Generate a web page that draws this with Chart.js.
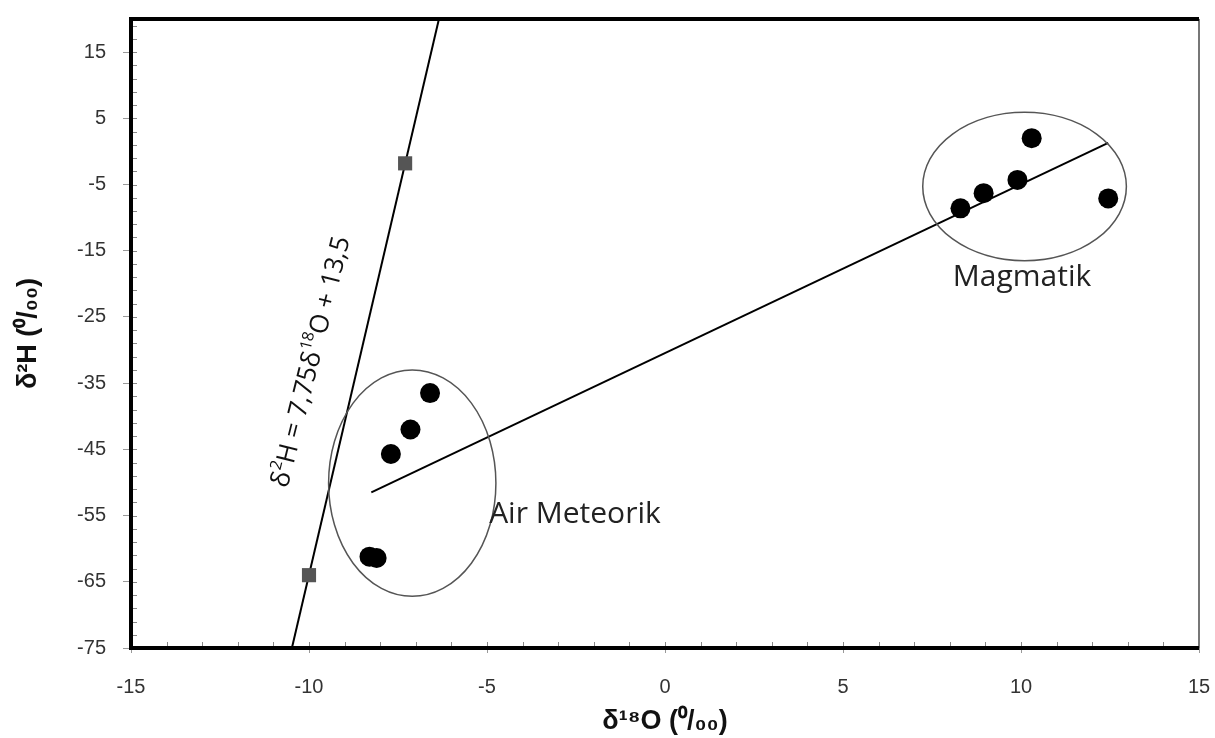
<!DOCTYPE html>
<html>
<head>
<meta charset="utf-8">
<script src="https://cdn.jsdelivr.net/npm/chart.js@4.4.1/dist/chart.umd.min.js"></script>
<style>
  html, body { margin: 0; padding: 0; background: #fff; }
  #wrap { width: 1215px; height: 738px; }
</style>
</head>
<body>
<div id="wrap"><canvas id="chart"></canvas></div>
<script>
// axis ticks
const xTicks = [-15, -10, -5, 0, 5, 10, 15];
const yTicks = [-75, -65, -55, -45, -35, -25, -15, -5, 5, 15];

// samples (d18O, d2H)
const sampleO = [-6.6, -7.15, -7.7, -8.3, -8.1, 8.3, 8.95, 9.9, 10.3, 12.45];
const sampleH = [-36.5, -42.0, -45.7, -61.2, -61.4, -8.6, -6.3, -4.3, 2.0, -7.1];

// meteoric water line reference points (grey squares) and its drawn extent
const mwlO = [-7.3, -10.0];
const mwlH = [-1.8, -64.0];
const mwlLineO = [-10.48, -6.35];
const mwlLineH = [-75, 20];

// mixing line
const mixO = [-8.25, 12.45];
const mixH = [-51.5, 1.3];

// grouping ellipses (centre and half widths in data units) + labels
const groupNames = ['Air Meteorik', 'Magmatik'];
const groupCenterO = [-7.1, 10.1];
const groupCenterH = [-50.1, -5.3];
const groupHalfO = [2.35, 2.86];
const groupHalfH = [17.1, 11.2];
const groupLabelO = [-4.94, 10.03];
const groupLabelH = [-54.9, -19.0];

// equation along the meteoric line
const eqRuns = [['δ', 0], ['2', 1], ['H = 7,75δ', 0], ['18', 1], ['O + 13,5', 0]];
const eqO = -9.93, eqH = -31.8;

const toXY = (xs, ys) => xs.map((v, i) => ({ x: v, y: ys[i] }));

function drawRuns(ctx, runs, size, family) {
  let total = 0;
  const widths = runs.map(r => {
    ctx.font = (r[1] ? Math.round(size * 0.62) : size) + 'px ' + family;
    const w = ctx.measureText(r[0]).width;
    total += w;
    return w;
  });
  let px = -total / 2;
  runs.forEach((r, i) => {
    ctx.font = (r[1] ? Math.round(size * 0.62) : size) + 'px ' + family;
    ctx.fillText(r[0], px, r[1] ? -size * 0.33 : 0);
    px += widths[i];
  });
}

const overlay = {
  id: 'overlay',
  afterDatasetsDraw(chart) {
    const { ctx, chartArea: a, scales: { x, y } } = chart;
    ctx.save();

    // ellipses and group labels
    ctx.strokeStyle = '#555';
    ctx.lineWidth = 1.5;
    ctx.fillStyle = '#222';
    ctx.font = '30px "Open Sans"';
    ctx.textBaseline = 'middle';
    groupNames.forEach((name, i) => {
      const cx = x.getPixelForValue(groupCenterO[i]);
      const cy = y.getPixelForValue(groupCenterH[i]);
      const rx = Math.abs(x.getPixelForValue(groupCenterO[i] + groupHalfO[i]) - cx);
      const ry = Math.abs(y.getPixelForValue(groupCenterH[i] + groupHalfH[i]) - cy);
      ctx.beginPath();
      ctx.ellipse(cx, cy, rx, ry, 0, 0, Math.PI * 2);
      ctx.stroke();
      ctx.textAlign = i === 0 ? 'left' : 'center';
      ctx.fillText(name, x.getPixelForValue(groupLabelO[i]), y.getPixelForValue(groupLabelH[i]));
    });

    // rotated equation
    ctx.save();
    ctx.translate(x.getPixelForValue(eqO), y.getPixelForValue(eqH));
    ctx.rotate(-76 * Math.PI / 180);
    ctx.textAlign = 'left';
    ctx.textBaseline = 'middle';
    ctx.fillStyle = '#111';
    drawRuns(ctx, eqRuns, 26, '"Open Sans"');
    ctx.restore();

    // minor ticks inside the frame
    ctx.strokeStyle = '#888';
    ctx.lineWidth = 1;
    ctx.beginPath();
    for (let v = x.min; v <= x.max; v += 1) {
      const px = Math.round(x.getPixelForValue(v)) + 0.5;
      ctx.moveTo(px, a.bottom);
      ctx.lineTo(px, a.bottom - 6);
    }
    for (let v = y.min; v <= y.max; v += 2) {
      const py = Math.round(y.getPixelForValue(v)) + 0.5;
      ctx.moveTo(a.left, py);
      ctx.lineTo(a.left + 6, py);
    }
    ctx.stroke();

    // frame
    ctx.strokeStyle = '#777';
    ctx.lineWidth = 2;
    ctx.beginPath();
    ctx.moveTo(a.right, a.top);
    ctx.lineTo(a.right, a.bottom);
    ctx.stroke();
    ctx.strokeStyle = '#000';
    ctx.lineWidth = 4;
    ctx.beginPath();
    ctx.moveTo(a.right, a.top);
    ctx.lineTo(a.left, a.top);
    ctx.lineTo(a.left, a.bottom);
    ctx.lineTo(a.right, a.bottom);
    ctx.stroke();
    ctx.restore();
  }
};

// no extra label overflow padding, the frame sits where the layout padding says
function noPad(s) {
  s.paddingTop = 0;
  s.paddingBottom = 0;
  s.paddingLeft = 0;
  s.paddingRight = 0;
}

const ctx = document.getElementById('chart').getContext('2d');
new Chart(ctx, {
  type: 'scatter',
  data: {
    datasets: [
      {
        label: 'samples',
        data: toXY(sampleO, sampleH),
        pointRadius: 10,
        pointHoverRadius: 10,
        backgroundColor: '#000',
        borderColor: '#000',
        borderWidth: 0
      },
      {
        label: 'MWL points',
        data: toXY(mwlO, mwlH),
        pointStyle: 'rect',
        pointRadius: 10,
        backgroundColor: '#555',
        borderWidth: 0
      },
      {
        label: 'MWL',
        data: toXY(mwlLineO, mwlLineH),
        showLine: true,
        pointRadius: 0,
        borderColor: '#000',
        borderWidth: 2
      },
      {
        label: 'mixing',
        data: toXY(mixO, mixH),
        showLine: true,
        pointRadius: 0,
        borderColor: '#000',
        borderWidth: 2
      }
    ]
  },
  options: {
    animation: false,
    responsive: true,
    maintainAspectRatio: false,
    events: [],
    layout: { padding: { top: 19, right: 16, left: 0, bottom: 0 } },
    plugins: { legend: { display: false }, tooltip: { enabled: false } },
    scales: {
      x: {
        type: 'linear',
        min: -15,
        max: 15,
        afterBuildTicks: s => { s.ticks = xTicks.map(v => ({ value: v })); },
        afterFit: s => { s.height = 90; noPad(s); },
        border: { display: false },
        grid: { drawOnChartArea: false, tickLength: 5, color: '#999' },
        ticks: { color: '#333', font: { family: 'Liberation Sans', size: 20 }, padding: 22, maxRotation: 0 },
        title: {
          display: true,
          text: 'δ¹⁸O (⁰/₀₀)',
          color: '#111',
          font: { family: 'Liberation Sans', size: 27, weight: 'bold' },
          padding: { top: 0, bottom: 0 }
        }
      },
      y: {
        type: 'linear',
        min: -75,
        max: 20,
        afterBuildTicks: s => { s.ticks = yTicks.map(v => ({ value: v })); },
        afterFit: s => { s.width = 131; noPad(s); },
        border: { display: false },
        grid: { drawOnChartArea: false, tickLength: 8, color: '#999' },
        ticks: { color: '#333', font: { family: 'Liberation Sans', size: 20 }, padding: 17 },
        title: {
          display: true,
          text: 'δ²H (⁰/₀₀)',
          color: '#111',
          font: { family: 'Liberation Sans', size: 27, weight: 'bold' },
          padding: { top: 12, bottom: 0 }
        }
      }
    }
  },
  plugins: [overlay]
});
</script>
</body>
</html>
